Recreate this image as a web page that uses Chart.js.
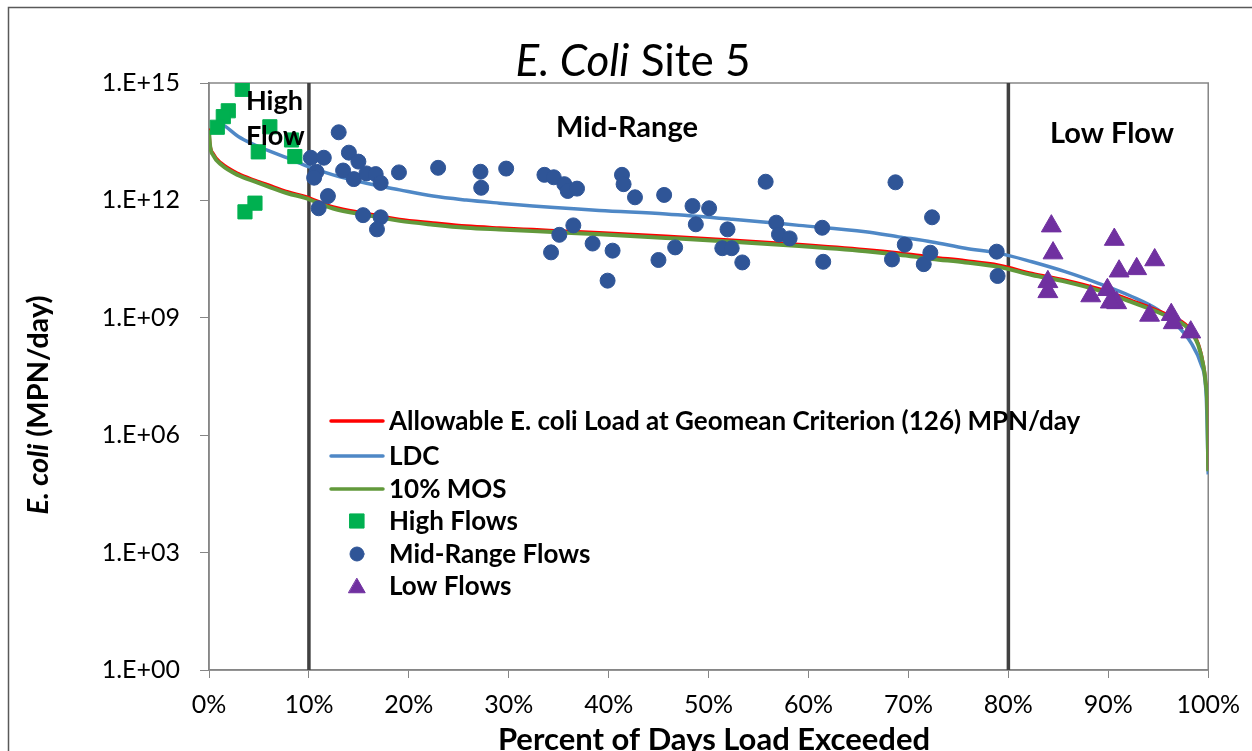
<!DOCTYPE html>
<html lang="en">
<head>
  <meta charset="UTF-8">
  <title>E. Coli Site 5</title>
  <script src="https://cdn.jsdelivr.net/npm/chart.js"></script>
  <style>
    html, body { margin: 0; padding: 0; background: #fff; }
    .box { width: 1252px; height: 751px; position: relative; }
  </style>
</head>
<body>
  <div class="box"><canvas id="chart"></canvas></div>

<script>
  // duration curves (percent of days exceeded vs load, MPN/day)
  const curvePct = [0, 0.1, 0.43, 1.27, 2.93, 4.6, 6.26, 7.92, 9.59, 12.42, 15.75, 19.08, 22.41, 25.74, 29.07,
    32.4, 35.73, 39.06, 45.72, 52.38, 59.04, 65.7, 69.03, 72.36, 75.69, 79.02, 82.35, 85.68, 89.01, 92.34,
    95.67, 98.0, 99.0, 99.5, 99.73, 99.93, 100];
  const allowable = [6.9e13, 2.9e13, 1.58e13, 8.9e12, 4.9e12, 3.3e12, 2.35e12, 1.66e12, 1.29e12, 6.9e11, 4.7e11,
    3.3e11, 2.7e11, 2.24e11, 2.0e11, 1.82e11, 1.66e11, 1.51e11, 1.23e11, 9.8e10, 7.6e10, 5.6e10, 4.6e10, 3.6e10,
    2.9e10, 2.24e10, 1.38e10, 9.3e9, 5.6e9, 2.8e9, 1.29e9, 5.9e8, 2.24e8, 6.9e7, 2.6e7, 3.6e6, 1.3e5];
  const mos = [6.2e13, 2.6e13, 1.42e13, 8.0e12, 4.4e12, 3.0e12, 2.1e12, 1.5e12, 1.16e12, 6.2e11, 4.2e11,
    3.0e11, 2.4e11, 2.0e11, 1.8e11, 1.64e11, 1.5e11, 1.36e11, 1.1e11, 8.8e10, 6.8e10, 5.0e10, 4.1e10, 3.2e10,
    2.6e10, 2.0e10, 1.24e10, 8.4e9, 5.0e9, 2.5e9, 1.16e9, 5.3e8, 2.0e8, 6.2e7, 2.3e7, 3.2e6, 1.2e5];

  const ldcPct = [0.8, 1.6, 2.93, 4.6, 6.26, 7.92, 9.59, 12.42, 15.75, 19.08, 22.41, 25.74, 29.07, 32.4, 35.73,
    39.06, 45.72, 52.38, 59.04, 65.7, 69.03, 72.36, 75.69, 79.02, 82.35, 85.68, 89.01, 92.34, 95.0, 97.0, 98.3,
    99.3, 99.8, 100];
  const ldc = [1.0e14, 7.9e13, 4.3e13, 2.6e13, 1.74e13, 1.2e13, 7.9e12, 4.5e12, 2.75e12, 1.86e12, 1.29e12,
    1.02e12, 8.5e11, 7.2e11, 6.3e11, 5.5e11, 4.5e11, 3.3e11, 2.3e11, 1.58e11, 1.17e11, 8.7e10, 6.0e10, 4.5e10,
    2.7e10, 1.51e10, 7.6e9, 3.5e9, 1.58e9, 5.9e8, 2.24e8, 6.3e7, 1e7, 1e5];

  // sampled loads
  const highPct = [3.33, 1.93, 1.43, 0.83, 6.09, 8.26, 4.93, 8.59, 3.6, 4.6];
  const highLoad = [6.9e14, 1.95e14, 1.38e14, 7.4e13, 7.6e13, 3.5e13, 1.74e13, 1.32e13, 5.1e11, 8.5e11];

  const midPct = [10.19, 11.49, 10.76, 10.52, 11.9, 10.97, 12.98, 14.0, 14.95, 13.42, 14.49, 15.75, 16.68, 17.18,
    15.42, 17.18, 16.81, 19.01, 22.93, 27.17, 27.24, 29.74, 33.57, 34.5, 35.56, 35.9, 36.83, 36.46, 35.06, 34.23,
    38.39, 40.39, 39.89, 41.33, 41.49, 42.63, 45.55, 48.39, 50.05, 48.72, 51.89, 56.77, 57.04, 58.11, 61.37,
    55.71, 68.7, 72.36, 69.63, 68.35, 71.53, 72.19, 44.98, 46.65, 51.37, 52.31, 53.37, 61.47, 78.83, 78.92];
  const midLoad = [1.23e13, 1.23e13, 5.4e12, 3.8e12, 1.29e12, 6.3e11, 5.5e13, 1.66e13, 9.8e12, 5.8e12, 3.5e12,
    4.9e12, 4.7e12, 2.8e12, 4.2e11, 3.7e11, 1.82e11, 5.2e12, 6.8e12, 5.4e12, 2.1e12, 6.5e12, 4.5e12, 3.9e12,
    2.6e12, 1.74e12, 2.0e12, 2.3e11, 1.32e11, 4.7e10, 7.9e10, 5.2e10, 8.9e9, 4.5e12, 2.6e12, 1.2e12, 1.38e12,
    7.2e11, 6.3e11, 2.45e11, 1.82e11, 2.7e11, 1.35e11, 1.07e11, 2.0e11, 3.0e12, 2.9e12, 3.7e11, 7.4e10, 3.1e10,
    2.35e10, 4.6e10, 3.0e10, 6.3e10, 6.0e10, 6.0e10, 2.6e10, 2.7e10, 4.9e10, 1.17e10];

  const lowPct = [84.3, 84.47, 90.6, 91.08, 92.84, 94.64, 83.95, 83.95, 88.24, 89.91, 90.51, 90.84, 90.2,
    94.13, 96.3, 96.5, 98.25];
  const lowLoad = [2.2e11, 4.5e10, 1.0e11, 1.55e10, 1.78e10, 3.0e10, 8.3e9, 4.6e9, 3.6e9, 5.2e9, 2.7e9, 2.4e9,
    2.5e9, 1.15e9, 1.2e9, 7.4e8, 4.3e8];

  // flow zone boundaries and axis ticks
  const zoneBreaks = [10, 80];
  const yTicks = [1e0, 1e3, 1e6, 1e9, 1e12, 1e15];

  function pts(xs, ys) {
    return xs.map((x, i) => ({ x: x, y: ys[i] }));
  }

  const FONT = 'Lato';

  // draws a line of text made of styled pieces, centred on x
  function drawRuns(ctx, runs, x, y) {
    let total = 0;
    runs.forEach(r => { ctx.font = r.font; total += ctx.measureText(r.text).width; });
    let cx = x - total / 2;
    runs.forEach(r => {
      ctx.font = r.font;
      ctx.fillText(r.text, cx, y);
      cx += ctx.measureText(r.text).width;
    });
  }

  const extras = {
    id: 'extras',
    beforeDatasetsDraw(chart) {
      const { ctx, chartArea: a } = chart;
      ctx.save();
      ctx.strokeStyle = '#868686';
      ctx.lineWidth = 1.5;
      ctx.strokeRect(a.left, a.top, a.right - a.left, a.bottom - a.top);
      ctx.restore();
    },
    afterDatasetsDraw(chart) {
      const ctx = chart.ctx;
      ctx.save();
      ctx.fillStyle = '#000';
      ctx.textBaseline = 'alphabetic';
      ctx.textAlign = 'left';

      // zone labels
      ctx.font = 'bold 27px ' + FONT;
      ctx.fillText('High', 246, 110);
      ctx.fillText('Flow', 246, 145);
      ctx.font = 'bold 29px ' + FONT;
      ctx.textAlign = 'center';
      ctx.fillText('Mid-Range', 627, 137);
      ctx.fillText('Low Flow', 1112, 143);

      // legend inside the plot
      const rows = [421, 456, 489, 521, 554, 586];
      const ds = chart.data.datasets;
      ctx.textAlign = 'left';
      ctx.textBaseline = 'middle';
      for (let i = 0; i < 6; i++) {
        const d = ds[i];
        const y = rows[i];
        if (d.showLine) {
          ctx.strokeStyle = d.borderColor;
          ctx.lineWidth = 3.5;
          ctx.lineCap = 'round';
          ctx.beginPath();
          ctx.moveTo(331, y);
          ctx.lineTo(383, y);
          ctx.stroke();
        } else {
          ctx.fillStyle = d.backgroundColor;
          ctx.strokeStyle = d.borderColor;
          ctx.lineWidth = 1;
          const r = d.pointStyle === 'triangle' ? 9.5 : (d.pointStyle === 'rect' ? 10 : 7);
          const yy = d.pointStyle === 'triangle' ? y + 2 : y;
          Chart.helpers.drawPoint(ctx, { pointStyle: d.pointStyle, radius: r, rotation: 0, borderWidth: 1 }, 357, yy);
        }
        ctx.fillStyle = '#000';
        ctx.font = 'bold 26px ' + FONT;
        ctx.fillText(d.label, 389, y + 1);
      }
      ctx.restore();
    },
    afterDraw(chart) {
      const ctx = chart.ctx;
      ctx.save();
      ctx.fillStyle = '#000';
      ctx.textBaseline = 'alphabetic';

      // title
      drawRuns(ctx, [
        { text: 'E. Coli', font: 'italic 44px ' + FONT },
        { text: ' Site 5', font: '44px ' + FONT }
      ], 633, 76);

      // x axis title
      drawRuns(ctx, [{ text: 'Percent of Days Load Exceeded', font: 'bold 31px ' + FONT }], 714, 750);

      // y axis title
      ctx.translate(48, 405);
      ctx.rotate(-Math.PI / 2);
      drawRuns(ctx, [
        { text: 'E. coli', font: 'italic bold 29px ' + FONT },
        { text: ' (MPN/day)', font: 'bold 29px ' + FONT }
      ], 0, 0);
      ctx.restore();

      // outer frame
      ctx.save();
      ctx.strokeStyle = '#595959';
      ctx.lineWidth = 1.5;
      ctx.strokeRect(8.5, 7.5, 1300, 800);
      ctx.restore();
    }
  };

  const zoneSets = zoneBreaks.map(b => ({
    label: '',
    data: [{ x: b, y: yTicks[0] }, { x: b, y: yTicks[yTicks.length - 1] }],
    showLine: true,
    borderColor: '#404040',
    borderWidth: 3.5,
    pointRadius: 0,
    order: 6
  }));

  const datasets = [
    {
      label: 'Allowable E. coli Load at Geomean Criterion (126) MPN/day',
      data: pts(curvePct, allowable),
      showLine: true, borderColor: '#FF0000', borderWidth: 3, pointRadius: 0,
      cubicInterpolationMode: 'monotone', order: 3
    },
    {
      label: 'LDC',
      data: pts(ldcPct, ldc),
      showLine: true, borderColor: '#4F88C6', borderWidth: 3.5, pointRadius: 0,
      cubicInterpolationMode: 'monotone', order: 4
    },
    {
      label: '10% MOS',
      data: pts(curvePct, mos),
      showLine: true, borderColor: '#62993B', borderWidth: 4, pointRadius: 0,
      cubicInterpolationMode: 'monotone', order: 2
    },
    {
      label: 'High Flows',
      data: pts(highPct, highLoad),
      pointStyle: 'rect', pointRadius: 10, backgroundColor: '#00B050', borderColor: '#00B050',
      borderWidth: 1, order: 1
    },
    {
      label: 'Mid-Range Flows',
      data: pts(midPct, midLoad),
      pointStyle: 'circle', pointRadius: 7.5, backgroundColor: '#2F5597', borderColor: '#2F5597',
      borderWidth: 1, order: 1
    },
    {
      label: 'Low Flows',
      data: pts(lowPct, lowLoad),
      pointStyle: 'triangle', pointRadius: 11.5, backgroundColor: '#7030A0', borderColor: '#7030A0',
      borderWidth: 1, order: 0
    }
  ].concat(zoneSets);

  const tickFont = { family: FONT, size: 25 };

  new Chart(document.getElementById('chart'), {
    type: 'scatter',
    data: { datasets: datasets },
    options: {
      responsive: true,
      maintainAspectRatio: false,
      animation: false,
      devicePixelRatio: 1,
      layout: { padding: { top: 83, right: 42, left: 0, bottom: 0 } },
      plugins: {
        legend: { display: false },
        title: { display: false },
        tooltip: { enabled: false }
      },
      scales: {
        x: {
          type: 'linear',
          min: 0, max: 100,
          border: { color: '#868686', width: 1.5 },
          grid: { drawOnChartArea: false, drawTicks: true, tickLength: 8, color: '#868686' },
          ticks: {
            stepSize: 10, color: '#000', font: tickFont, padding: 12, maxRotation: 0,
            callback: v => v + '%'
          },
          afterFit: s => { s.height = 81; }
        },
        y: {
          type: 'logarithmic',
          min: yTicks[0], max: yTicks[yTicks.length - 1],
          border: { color: '#868686', width: 1.5 },
          grid: { drawOnChartArea: false, drawTicks: true, tickLength: 9, color: '#868686' },
          afterBuildTicks: s => { s.ticks = yTicks.map(v => ({ value: v })); },
          ticks: {
            color: '#000', font: tickFont, padding: 20,
            callback: v => '1.E+' + String(Math.round(Math.log10(v))).padStart(2, '0')
          },
          afterFit: s => { s.width = 209; }
        }
      }
    },
    plugins: [extras]
  });
</script>
</body>
</html>
